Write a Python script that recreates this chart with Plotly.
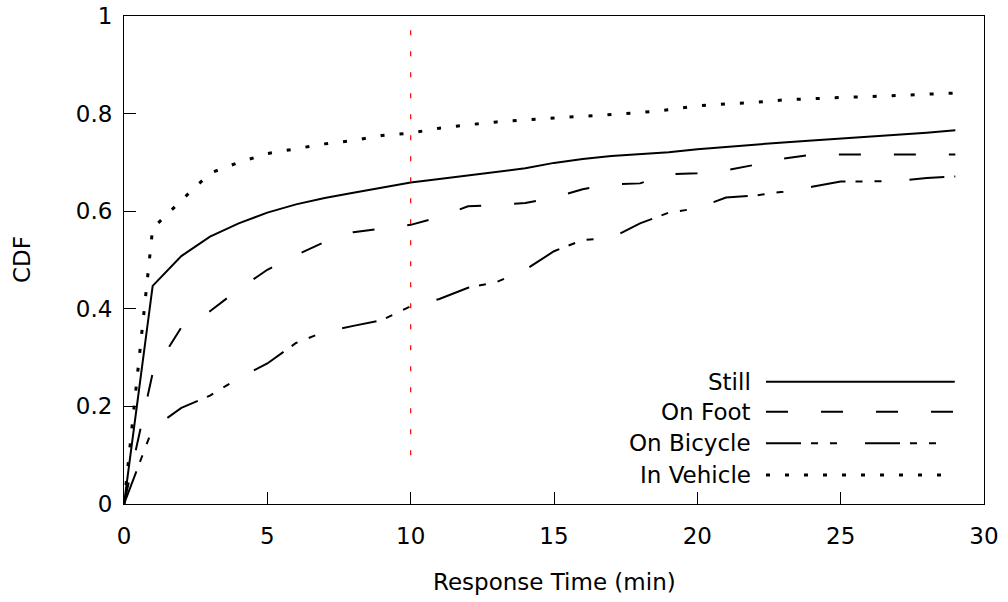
import plotly.graph_objects as go

minutes = list(range(0, 30))
still = [0, 0.447, 0.508, 0.548, 0.575, 0.597, 0.614, 0.627, 0.638, 0.649, 0.659, 0.666, 0.673, 0.680, 0.688,
         0.699, 0.707, 0.713, 0.717, 0.721, 0.727, 0.732, 0.737, 0.741, 0.745, 0.749, 0.752, 0.757, 0.761, 0.766]
on_foot = [0, 0.268, 0.362, 0.395, 0.44, 0.48, 0.51, 0.537, 0.557, 0.565, 0.572, 0.588, 0.61, 0.612, 0.617,
           0.628, 0.645, 0.655, 0.657, 0.676, 0.678, 0.684, 0.695, 0.708, 0.716, 0.716, 0.716, 0.716, 0.716, 0.716]
on_bicycle = [0, 0.155, 0.197, 0.222, 0.258, 0.288, 0.33, 0.353, 0.365, 0.377, 0.405, 0.42, 0.443, 0.455, 0.48,
              0.518, 0.541, 0.545, 0.575, 0.597, 0.606, 0.628, 0.632, 0.64, 0.65, 0.661, 0.661, 0.662, 0.668, 0.671]
in_vehicle = [0, 0.565, 0.622, 0.678, 0.70, 0.718, 0.728, 0.738, 0.745, 0.755, 0.76, 0.77, 0.777, 0.783, 0.787,
              0.791, 0.795, 0.799, 0.802, 0.808, 0.816, 0.82, 0.823, 0.828, 0.831, 0.833, 0.835, 0.837, 0.84, 0.842]

series_names = ["Still", "On Foot", "On Bicycle", "In Vehicle"]
series_values = [still, on_foot, on_bicycle, in_vehicle]
series_dash = ["solid", "22px,33px", "35px,10px,7px,12px,7px,28px", "4px,15px"]
series_width = [2, 2, 2, 3]

x_ticks = [0, 5, 10, 15, 20, 25, 30]
y_ticks = [0, 0.2, 0.4, 0.6, 0.8, 1]
y_tick_labels = ["0", "0.2", "0.4", "0.6", "0.8", "1"]

marker_x = 10
marker_y = [0.1, 1.0]

FONT = "DejaVu Sans"
FS = 23

fig = go.Figure()
for name, vals, dash, w in zip(series_names, series_values, series_dash, series_width):
    fig.add_trace(go.Scatter(x=minutes, y=vals, mode="lines", name=name,
                             line=dict(color="black", width=w, dash=dash), showlegend=False))

# reference line at 10 minutes
fig.add_trace(go.Scatter(x=[marker_x, marker_x], y=marker_y, mode="lines", showlegend=False,
                         line=dict(color="#ff0000", width=1.2, dash="5px,16px")))

# gnuplot-style legend: text right-aligned, sample to its right
leg_text_x = 0.731
leg_x0, leg_x1 = 0.7465, 0.966
leg_rows = [0.2506, 0.189, 0.1244, 0.0594]
for name, dash, w, yy in zip(series_names, series_dash, series_width, leg_rows):
    fig.add_annotation(x=leg_text_x, y=yy, xref="paper", yref="paper", text=name, showarrow=False,
                       xanchor="right", yanchor="middle", font=dict(family=FONT, size=FS, color="black"))
    fig.add_shape(type="line", xref="paper", yref="paper", x0=leg_x0, x1=leg_x1, y0=yy, y1=yy,
                  line=dict(color="black", width=w, dash=dash))

# axis titles
fig.add_annotation(x=0.5, y=-0.16, xref="paper", yref="paper", text="Response Time (min)", showarrow=False,
                   xanchor="center", yanchor="middle", font=dict(family=FONT, size=FS, color="black"))
fig.add_annotation(x=-0.1186, y=0.5, xref="paper", yref="paper", text="CDF", showarrow=False, textangle=-90,
                   xanchor="center", yanchor="middle", font=dict(family=FONT, size=FS, color="black"))

fig.update_layout(
    width=1008, height=602,
    margin=dict(l=124, r=24, t=16, b=98),
    plot_bgcolor="white", paper_bgcolor="white",
    font=dict(family=FONT, size=FS, color="black"),
    xaxis=dict(range=[0, 30], tickvals=x_ticks, ticks="inside", ticklen=12, tickcolor="black",
               showline=True, linecolor="black", linewidth=1, mirror=True, showgrid=False, zeroline=False,
               automargin=False, ticklabelstandoff=11),
    yaxis=dict(range=[0, 1], tickvals=y_ticks, ticktext=y_tick_labels, ticks="inside", ticklen=12,
               tickcolor="black", showline=True, linecolor="black", linewidth=1, mirror=True,
               showgrid=False, zeroline=False, automargin=False, ticklabelstandoff=6),
)

fig.write_html("out.html")
